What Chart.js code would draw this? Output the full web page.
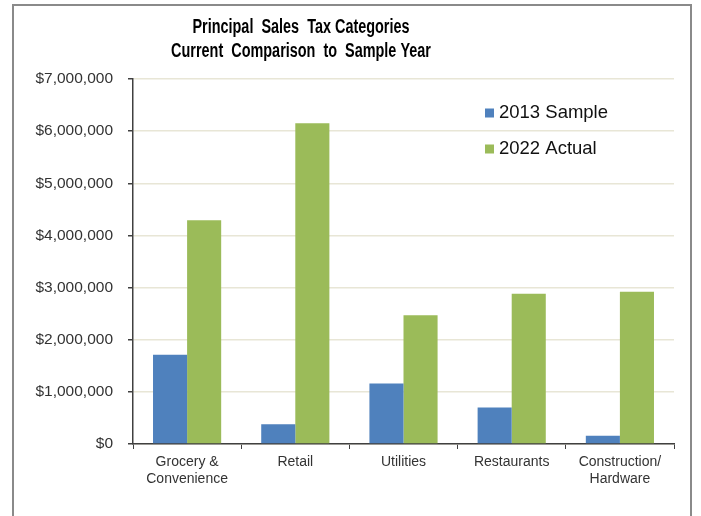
<!DOCTYPE html>
<html>
<head>
<meta charset="utf-8">
<script src="https://cdn.jsdelivr.net/npm/chart.js@4.4.1/dist/chart.umd.min.js"></script>
<style>
    body { margin: 0; background: #fff; }
    #wrap { position: relative; width: 701px; height: 516px; overflow: hidden; }
    #frame {
        position: absolute; left: 12px; top: 4px; width: 676px; height: 600px;
        border: 2px solid #8a8a8a;
    }
    #myChart { position: absolute; left: 0; top: 0; }
</style>
</head>
<body>
<div id="wrap">
    <div id="frame"></div>
    <canvas id="myChart" width="701" height="516"></canvas>
</div>
<script>
let categories = [["Grocery &", "Convenience"], "Retail", "Utilities", "Restaurants", ["Construction/", "Hardware"]],
    sample2013 = [1710000, 380000, 1160000, 700000, 160000],
    actual2022 = [4290000, 6150000, 2470000, 2880000, 2920000];

const seriesNames = ["2013 Sample", "2022 Actual"];
const titleLines = ["Principal  Sales  Tax Categories", "Current  Comparison  to  Sample Year"];

const money = value => "$" + Number(value).toLocaleString("en-US");

// title sits left of the plot centre, so it is drawn by hand (narrow bold face)
const titlePlugin = {
    id: "titleText",
    afterDraw: chart => {
        const ctx = chart.ctx;
        ctx.save();
        ctx.fillStyle = "#000";
        ctx.font = "bold 19.5px 'Liberation Sans', Arial";
        ctx.textAlign = "center";
        ctx.textBaseline = "middle";
        ctx.translate(301, 0);
        ctx.scale(0.74, 1);
        ctx.fillText(titleLines[0], 0, 28);
        ctx.fillText(titleLines[1], 0, 52);
        ctx.restore();
    }
};

// legend stacked inside the plot, top right
const legendPlugin = {
    id: "innerLegend",
    afterDraw: chart => {
        const ctx = chart.ctx;
        const area = chart.chartArea;
        ctx.save();
        ctx.font = "18.5px 'Liberation Sans', Arial";
        ctx.textBaseline = "middle";
        chart.data.datasets.forEach((ds, i) => {
            let y = area.top + 34 + i * 36;
            let x = area.right - 189;
            ctx.fillStyle = ds.backgroundColor;
            ctx.fillRect(x, y - 4.5, 9, 9);
            ctx.fillStyle = "#111";
            ctx.fillText(ds.label, x + 14, y);
        });
        ctx.restore();
    }
};

let data = {
    labels: categories,
    datasets: [{
        label: seriesNames[0],
        backgroundColor: "#4f81bd",
        data: sample2013
    }, {
        label: seriesNames[1],
        backgroundColor: "#9bbb59",
        data: actual2022
    }]
};

const config = {
    type: "bar",
    data: data,
    plugins: [titlePlugin, legendPlugin],
    options: {
        responsive: false,
        devicePixelRatio: 1,
        animation: false,
        categoryPercentage: 0.63,
        barPercentage: 1,
        layout: { padding: { top: 79, right: 27, left: 0, bottom: 0 } },
        plugins: {
            legend: { display: false },
            title: { display: false },
            tooltip: { enabled: false }
        },
        scales: {
            x: {
                grid: {
                    offset: true,
                    drawOnChartArea: false,
                    drawTicks: true,
                    tickLength: 5,
                    color: "#404040"
                },
                border: { color: "#404040", width: 1.5 },
                ticks: {
                    color: "#333",
                    font: { family: "'Liberation Sans', Arial", size: 14 },
                    padding: 5,
                    maxRotation: 0
                },
                afterFit: scale => { scale.height = 72; }
            },
            y: {
                min: 0,
                max: 7000000,
                grid: {
                    color: "#e8e6d6",
                    lineWidth: 1.5,
                    tickColor: "#404040",
                    tickLength: 5
                },
                border: { color: "#404040", width: 1.5 },
                ticks: {
                    stepSize: 1000000,
                    color: "#333",
                    font: { family: "'Liberation Sans', Arial", size: 15.5 },
                    padding: 15,
                    callback: value => money(value)
                },
                afterFit: scale => { scale.width = 133; }
            }
        }
    }
};

var myChart = new Chart(document.getElementById("myChart"), config);
</script>
</body>
</html>
